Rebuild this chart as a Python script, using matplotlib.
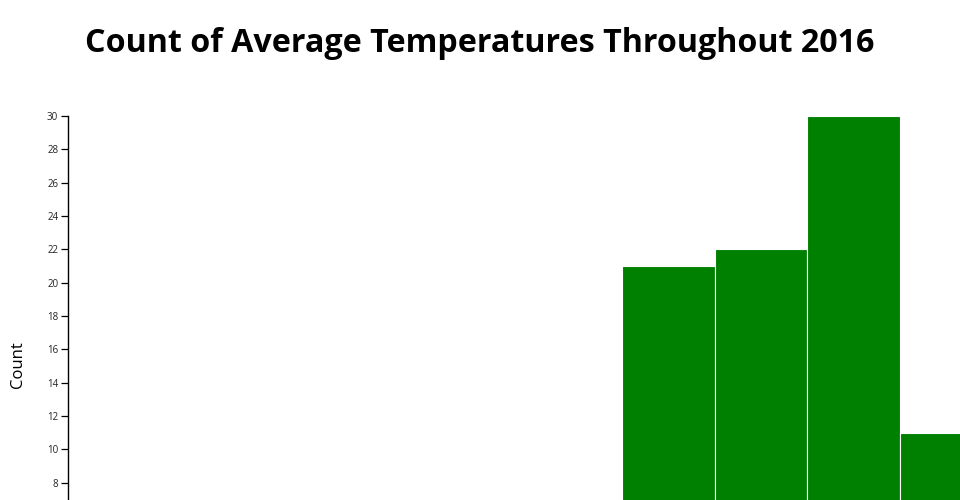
import matplotlib
matplotlib.use("Agg")
import matplotlib.pyplot as plt

# ── Data ──────────────────────────────────────────────────────────────────────
# histogram bins (only the ones reaching into the visible area carry counts)
bin_index = [0, 1, 2, 3, 4, 5, 6, 7, 8, 9]
counts    = [0, 0, 0, 0, 0, 0, 21, 22, 30, 11]
y_ticks   = list(range(8, 31, 2))   # lower ticks fall below the canvas

BAR_COL = "#008000"

W, H = 960, 500
fig = plt.figure(figsize=(W / 100, H / 100), dpi=100)
fig.patch.set_facecolor("white")

# plot area runs past the bottom/right edge of the canvas (clipped like the svg)
left, top, bottom, width = 68, 116, 616, 924
ax = fig.add_axes([left / W, (H - bottom) / H, width / W, (bottom - top) / H])

ax.bar(bin_index, counts, width=1.0, align="edge",
       color=BAR_COL, edgecolor="#ffffff", linewidth=0.8)

ax.set_xlim(0, len(bin_index))
ax.set_ylim(0, 30)
ax.set_yticks(y_ticks)
ax.set_yticklabels([str(t) for t in y_ticks], fontsize=7, family="Open Sans",
                   color="#222")
ax.tick_params(axis="y", length=5, width=0.9, pad=2, color="black")
ax.set_xticks([])

for s in ["top", "right", "bottom"]:
    ax.spines[s].set_visible(False)
ax.spines["left"].set_linewidth(1.0)

fig.text(18 / W, 1 - 365 / H, "Count", rotation=90, ha="center", va="center",
         fontsize=12, family="Open Sans")

fig.text(480 / W, 1 - 44 / H, "Count of Average Temperatures Throughout 2016",
         ha="center", va="center", fontsize=23.2, fontweight="bold",
         family="Open Sans")

fig.savefig("out.png", dpi=100, facecolor="white")
